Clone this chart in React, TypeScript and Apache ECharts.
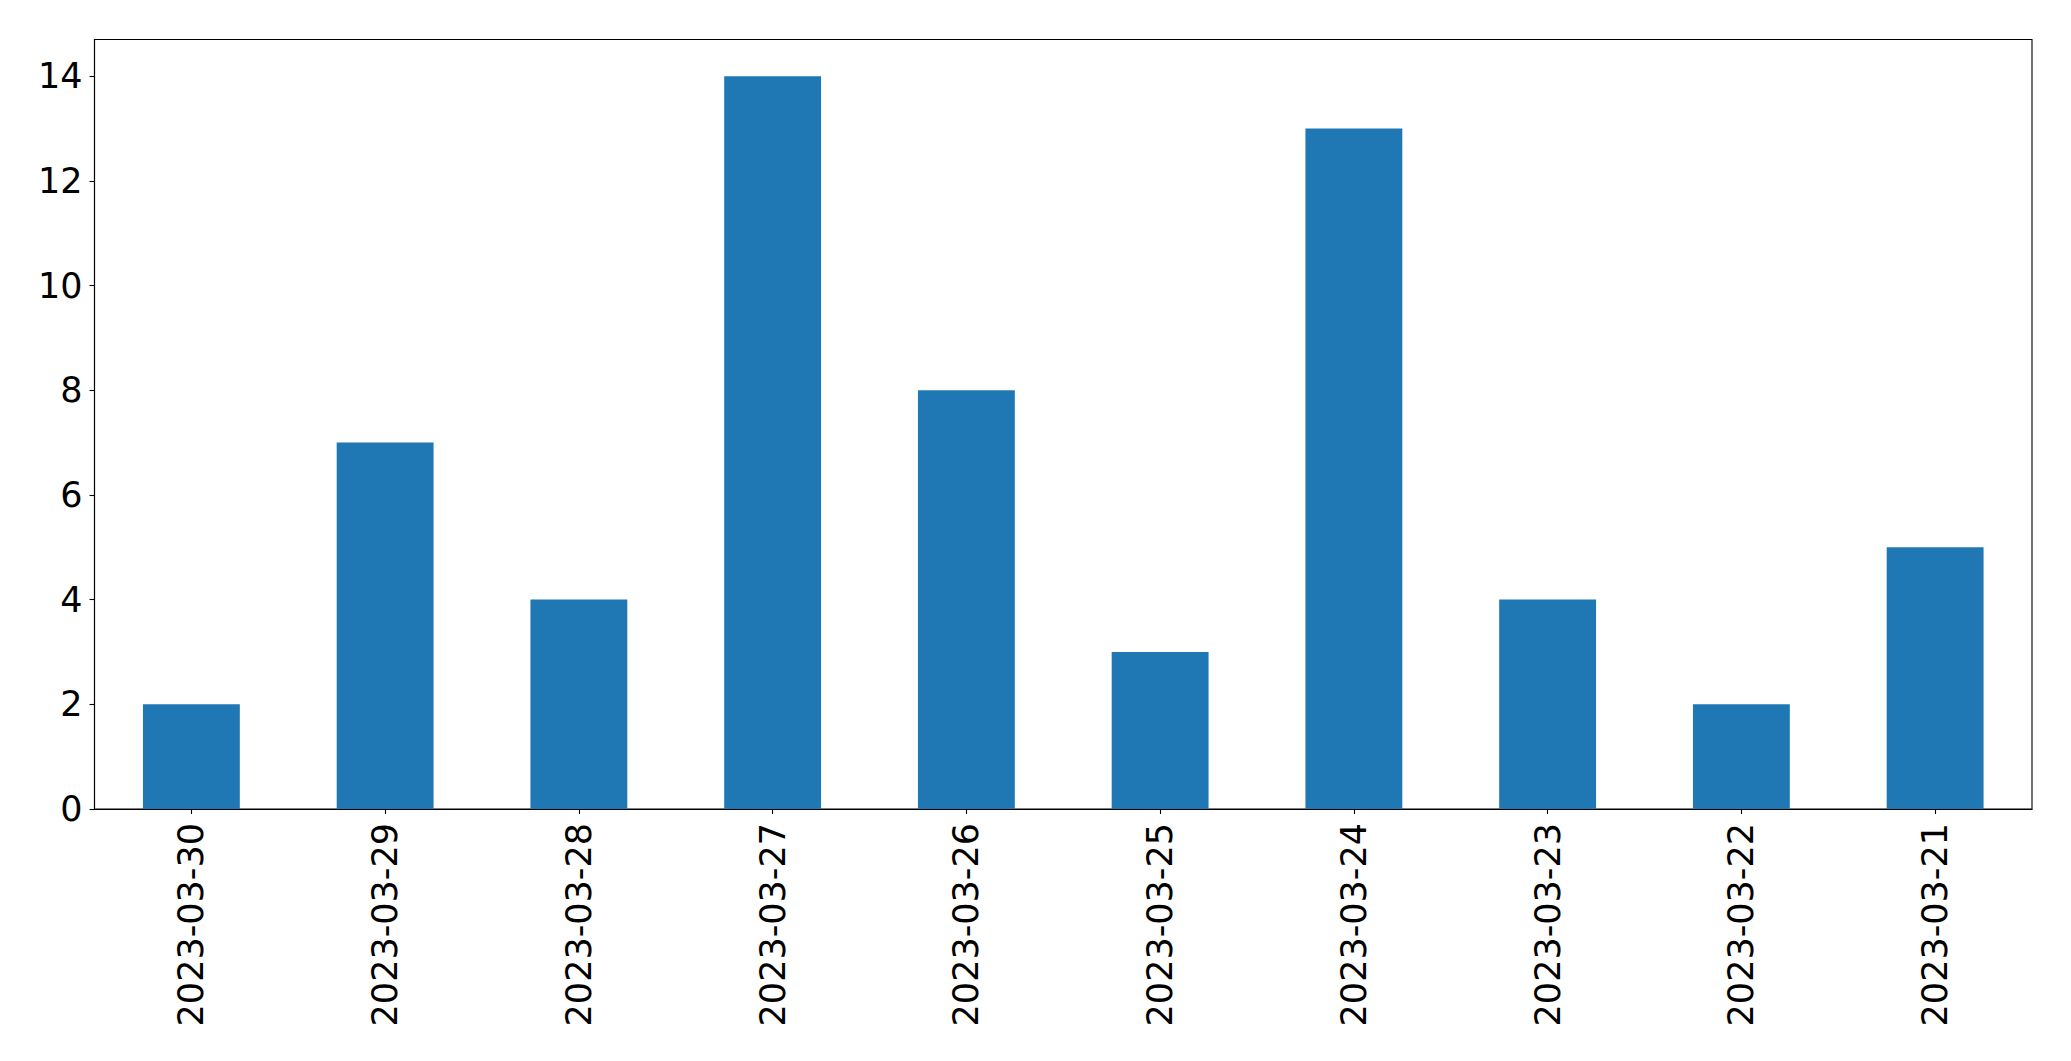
import React, { useEffect, useRef } from "react";
import * as echarts from "echarts";

const categories = [
  "2023-03-30",
  "2023-03-29",
  "2023-03-28",
  "2023-03-27",
  "2023-03-26",
  "2023-03-25",
  "2023-03-24",
  "2023-03-23",
  "2023-03-22",
  "2023-03-21",
];
const values = [2, 7, 4, 14, 8, 3, 13, 4, 2, 5];

export default function App() {
  const ref = useRef<HTMLDivElement>(null);
  useEffect(() => {
    if (!ref.current) return;
    const chart = echarts.init(ref.current, undefined, { renderer: "svg" });
    const font = "DejaVu Sans";
    chart.setOption({
      animation: false,
      backgroundColor: "#ffffff",
      grid: {
        left: 94.5,
        top: 39.5,
        right: 39,
        bottom: 252,
        show: true,
        borderColor: "#000000",
        borderWidth: 1.1,
        backgroundColor: "transparent",
      },
      xAxis: {
        type: "category",
        data: categories,
        boundaryGap: true,
        axisLine: { show: true, lineStyle: { color: "#000000", width: 1.1 } },
        axisTick: { show: true, alignWithLabel: true, length: 5, lineStyle: { color: "#000000", width: 1.1 } },
        axisLabel: {
          rotate: 90,
          margin: 14,
          fontSize: 35,
          fontFamily: font,
          color: "#000000",
          interval: 0,
        },
        splitLine: { show: false },
      },
      yAxis: {
        type: "value",
        min: 0,
        max: 14.7,
        interval: 2,
        axisLine: { show: true, lineStyle: { color: "#000000", width: 1.1 } },
        axisTick: { show: true, length: 5, lineStyle: { color: "#000000", width: 1.1 } },
        axisLabel: {
          margin: 12,
          fontSize: 35,
          fontFamily: font,
          color: "#000000",
          showMaxLabel: false,
          formatter: (v: number) => (Number.isInteger(v) ? String(v) : ""),
        },
        splitLine: { show: false },
      },
      series: [
        {
          type: "bar",
          data: values,
          barWidth: "50%",
          itemStyle: { color: "#1f77b4" },
        },
      ],
    });
    return () => chart.dispose();
  }, []);
  return (
    <div
      ref={ref}
      style={{ position: "absolute", left: 0, top: 0, width: 2071, height: 1061 }}
    />
  );
}
